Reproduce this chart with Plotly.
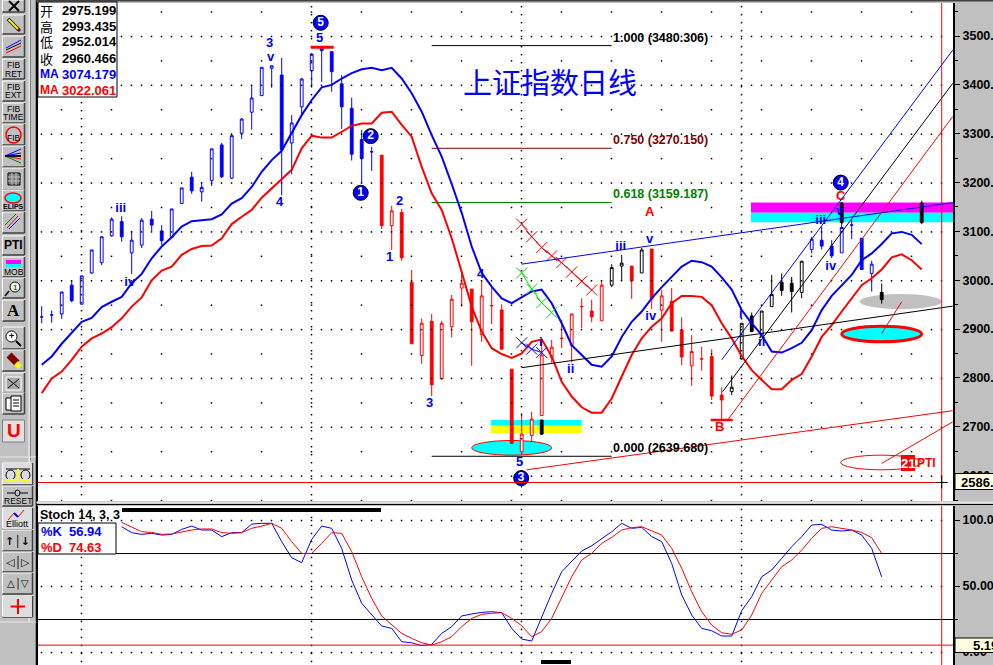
import plotly.graph_objects as go

# ---------- data ----------
OPEN = [2925,2929,2931,2990,2951,3015,3036,3091,3120,3056,3072,3125,3101,3088,3157,3211,3181,3204,3277,3209,
        3301,3344,3378,3434,3420,3281,3355,3429,3477,3468,3402,3352,3288,3263,3256,3112,3139,2996,2846,2916,
        2798,2905,2984,2982,2889,2948,2939,2818,2649,2682,2723,2842,2881,2866,2946,2937,2917,2990,3029,3029,
        3015,3064,2939,2957,2898,2825,2839,2844,2765,2772,2839,2927,2884,2946,2996,2994,2975,3063,3082,3070,
        3056,3113,3086,3014,2975.199]
HIGH = [2947,2938,2976,3000,3009,3062,3089,3129,3131,3101,3127,3142,3113,3146,3189,3222,3201,3269,3281,3301,
        3332,3400,3436,3439,3455,3338,3414,3465,3477,3468,3420,3374,3308,3273,3256,3152,3146,3021,2922,2931,
        2917,2970,3021,2982,3000,2986,2951,2818,2728,2731,2878,2878,2919,2931,2963,2960,3000,3033,3052,3029,
        3066,3064,2980,2984,2924,2888,2864,2859,2781,2805,2912,2934,2937,3011,3014,3007,3039,3089,3110,3082,
        3144,3125,3086,3040,2993.435]
LOW = [2912,2913,2921,2955,2951,3013,3031,3089,3079,3013,3066,3101,3072,3086,3156,3177,3161,3193,3209,3207,
       3289,3308,3377,3394,3174,3217,3336,3398,3406,3386,3310,3245,3198,3224,3105,3062,3040,2870,2829,2763,
       2798,2883,2946,2825,2874,2910,2858,2666,2642,2670,2723,2831,2861,2832,2902,2914,2917,2986,2999,2962,
       3015,2941,2874,2895,2826,2784,2815,2755,2714,2765,2839,2894,2884,2946,2968,2934,2963,3055,3063,3045,
       3056,3084,3022,2977,2952.014]
CLOSE = [2925,2929,2976,2958,3009,3062,3089,3125,3089,3082,3123,3113,3081,3146,3189,3183,3190,3269,3212,3296,
         3330,3373,3436,3439,3267,3322,3412,3463,3470,3427,3355,3258,3249,3263,3112,3142,3046,2870,2912,2786,
         2912,2961,2994,2915,2968,2948,2859,2666,2685,2716,2847,2863,2881,2931,2946,2925,2990,3026,3035,2999,
         3062,2962,2968,2896,2843,2854,2839,2763,2755,2781,2912,2895,2937,2971,2979,2977,3039,3084,3070,3050,
         3108,3113,3022,3033,2960.466]
BLUE_BARS = list(range(0, 34)) + list(range(77, 84))
BLACK_BARS = [57, 58, 60] + list(range(69, 77)) + [84]
RED_BARS = [i for i in range(85) if i not in BLUE_BARS and i not in BLACK_BARS]
EXTRA_X = [50, 80, 88]
EXTRA_OPEN = [2714, 3158, 3158]
EXTRA_HIGH = [2714, 3160, 3163]
EXTRA_LOW = [2683, 3115, 3115]
EXTRA_CLOSE = [2685, 3118, 3118]

MA_BLUE = [2827,2844,2870,2892,2915,2923,2945,2956,2966,2994,3013,3045,3069,3088,3110,3121,3123,3125,3135,3157,
           3168,3191,3222,3246,3265,3301,3338,3369,3395,3400,3413,3424,3432,3435,3430,3435,3413,3383,3345,3297,
           3253,3197,3138,3069,3015,2987,2963,2953,2965,2977,2981,2953,2912,2867,2847,2827,2823,2844,2884,2915,
           2936,2963,2986,3007,3028,3040,3037,3028,3006,2981,2939,2912,2888,2854,2852,2861,2872,2898,2939,2968,
           2990,3011,3041,3055,3074.179,3096,3099,3093,3074]
MA_RED = [2769,2799,2813,2837,2864,2881,2891,2904,2922,2946,2965,3000,3020,3028,3052,3064,3070,3071,3086,3115,
          3130,3144,3169,3188,3207,3226,3270,3296,3292,3292,3304,3316,3321,3321,3343,3345,3318,3294,3232,3178,
          3144,3086,3017,2946,2895,2861,2849,2841,2850,2874,2879,2844,2792,2762,2740,2729,2729,2758,2803,2847,
          2881,2905,2922,2953,2968,2968,2966,2949,2912,2881,2845,2816,2796,2777,2777,2796,2808,2844,2884,2908,
          2936,2963,2990,3004,3022.061,3047,3053,3041,3022]
STOCH_K = [94.9,90.4,89.1,89.9,88.6,89.1,92.9,95.4,92.4,92.4,87.4,90.4,90.4,96.9,97.5,97.5,83.6,71.4,67.7,85.3,
           95.4,93.7,78.5,54.5,36.9,28,19.7,17.9,7.8,7,4.8,5.8,14.1,19.2,27.3,28.8,30,30.5,
           29.8,17.9,9.8,8.3,26.7,44.4,60.8,68.9,76.5,80.5,86.1,91.1,97.5,93.7,94.4,87.4,83.6,67.1,43.2,28,
           17.9,16.1,12.1,12.1,31.3,41.9,57,62.1,70.9,79.8,87.4,96.2,96.7,92.4,91.6,92.4,88.6,78.5,56.94]
STOCH_D = [98.2,94.4,91.1,90.6,89.1,89.4,91.1,92.4,93.2,93.2,90.4,89.9,90.4,93.7,95.4,97.5,93.7,83.6,74.7,74.7,
           82.3,90.4,89.9,76,57,40.6,27.3,20.4,14.1,10.3,7,5.3,7.8,11.6,19.2,25.5,28.5,29.3,
           29.8,25.5,19.9,11.6,15.4,25.5,41.9,57,69.7,74.7,82.3,86.8,92.4,94.2,94.9,91.6,88.6,78.5,63.4,45.7,
           30.5,20.4,14.6,13.4,16.7,28,44.4,54.5,64.6,69.7,77.2,86.1,93.7,94.9,93.7,92.4,90.6,86.6,74.63]
STOCH_START = 8

FIB_LEVELS = [3480.306, 3270.150, 3159.187, 2639.680]
FIB_RATIOS = ["1.000", "0.750", "0.618", "0.000"]
FIB_COLORS = ["#000000", "#800000", "#008000", "#000000"]
FIB_X = [39, 57]

WAVE_TEXT = ["iii","iv","3","v","4","5","2","1","3","4","5","i","ii","iii","v","iv","i","ii","iii","v","iv"]
WAVE_X = [7.9,8.8,22.8,22.9,23.8,27.8,35.8,34.8,38.8,43.9,47.8,49.9,52.9,57.9,60.8,60.9,69.9,72,77.9,79.8,78.9]
WAVE_Y = [3147,2994,3484,3455,3159,3494,3161,3046,2747,3011,2626,2872,2816,3068,3082,2925,2929,2872,3122,3140,3028]
ABC_TEXT = ["A", "B", "C"]
ABC_X = [60.8, 67.8, 79.9]
ABC_Y = [3138, 2698, 3171]
CIRCLE_TEXT = ["5", "2", "1", "3", "4"]
CIRCLE_X = [27.9, 32.9, 31.9, 47.95, 79.9]
CIRCLE_Y = [3527, 3295, 3179, 2595, 3200]

X_RED = [48,49,50,51,52,53,54,55]
Y_RED = [3115,3089,3067,3050,3036,3017,2998,2980]
X_GREEN = [48,49,50,51]
Y_GREEN = [3015,2982,2954,2934]
X_BLUE = [48,49,50]
Y_BLUE = [2872,2859,2852]

CROSS_I = 90
CROSS_PRICE = 2586
CROSS_STOCH = 5.19

TREND_LINES = [  # i0, p0, i1, p1, colour
    (48, 3033, 91.1, 3159, "#0000ff"),
    (48, 2821, 91.1, 2947, "#000000"),
    (48.5, 2612, 91.1, 2733, "#ff0000"),
    (68, 2837, 91.1, 3471, "#0000ff"),
    (68.1, 2772, 91.1, 3403, "#000000"),
    (68.6, 2714, 91.1, 3335, "#ff0000"),
    (84, 2625, 91.1, 2710, "#ff0000"),
    (84, 2891, 86, 2956, "#ff0000"),
]

PRICE_TICKS = [2600, 2700, 2800, 2900, 3000, 3100, 3200, 3300, 3400, 3500]
PRICE_MINOR = [2550, 2650, 2750, 2850, 2950, 3050, 3150, 3250, 3350, 3450, 3550]
STOCH_TICKS = [0, 50, 100]
STOCH_LABELS = ["0.00", "50.00", "100.0"]
TIME_GRID = [4, 27, 48, 70]
# filled zones: i0, i1, price0, price1 (the dotted grid stays behind them)
ZONES = [(70.93, 91.13, 3119, 3159), (44.93, 54, 2687, 2714), (43, 51, 2642, 2672),
         (81.8, 90, 2941, 2972), (80, 88, 2874, 2906)]

# ---------- page geometry ----------
W, H = 993, 665
PX0, PX1 = 38, 953
X_RANGE = [(PX0 - 41.7) / 10, (PX1 - 41.7) / 10]
TOP0, TOP1 = 3, 501
BOT0, BOT1 = 506, 665
PRICE_RANGE = [3500 - (TOP1 - 36) * 2.047, 3500 + (36 - TOP0) * 2.047]
STOCH_RANGE = [(652 - BOT1) / 1.32, (652 - BOT0) / 1.32]
FONT = "Liberation Sans"

fig = go.Figure()

# dotted background grid, one point per dot
def grid_trace(pts, ya, xa):
    fig.add_trace(go.Scatter(x=[p[0] for p in pts], y=[p[1] for p in pts], mode="lines+markers", xaxis=xa, yaxis=ya,
                             hoverinfo="skip", showlegend=False, line=dict(width=0, color="rgba(0,0,0,0)"),
                             marker=dict(symbol="square", size=1.5, color="#000000", line=dict(width=0))))

def in_zone(p):
    return any(a <= p[0] <= b and c <= p[1] <= d for a, b, c, d in ZONES)

pts = []
for p in PRICE_TICKS:
    pts += [(i - 0.02, p - 1) for i in range(0, 91)]
for p in PRICE_MINOR:
    pts += [(i + 2.0 - 0.02, p - 1) for i in range(0, 90, 5)]
for t in TIME_GRID:
    n = 0
    while 3560 - n * 16.376 > PRICE_RANGE[0]:
        pts.append((t - 0.02, 3560 - n * 16.376))
        n += 1
grid_trace([p for p in pts if not in_zone(p)], "y", "x")
pts = []
for s in STOCH_TICKS:
    pts += [(i - 0.02, s - 0.4) for i in range(0, 91)]
for t in TIME_GRID:
    n = 0
    while 108 - n * 6.06 > STOCH_RANGE[0]:
        pts.append((t - 0.02, 108 - n * 6.06))
        n += 1
grid_trace(pts, "y2", "x2")

def candles(x, o, h, l, c, color):
    fig.add_trace(go.Candlestick(
        x=x, open=o, high=h, low=l, close=c, whiskerwidth=0, hoverinfo="skip", showlegend=False,
        increasing=dict(line=dict(color=color, width=1), fillcolor="#ffffff"),
        decreasing=dict(line=dict(color=color, width=1), fillcolor=color)))

for group, col in ((BLUE_BARS, "#0000ff"), (RED_BARS, "#ff0000"), (BLACK_BARS, "#000000")):
    candles(group, [OPEN[i] for i in group], [HIGH[i] for i in group],
            [LOW[i] for i in group], [CLOSE[i] for i in group], col)
candles(EXTRA_X, EXTRA_OPEN, EXTRA_HIGH, EXTRA_LOW, EXTRA_CLOSE, "#000000")

def line(x, y, color, width, xa="x", ya="y", mode="lines", **kw):
    fig.add_trace(go.Scatter(x=x, y=y, mode=mode, xaxis=xa, yaxis=ya, hoverinfo="skip", showlegend=False,
                             line=dict(color=color, width=width), **kw))

line(list(range(len(MA_RED))), MA_RED, "#ff0000", 2)
line(list(range(len(MA_BLUE))), MA_BLUE, "#0000ff", 2)

for xs, ys, col in ((X_RED, Y_RED, "#ff0000"), (X_GREEN, Y_GREEN, "#00e000"), (X_BLUE, Y_BLUE, "#0000ff")):
    line(xs, ys, col, 1, mode="lines+markers",
         marker=dict(symbol="x-thin", size=11, line=dict(color=col, width=1)))

kx = list(range(STOCH_START, STOCH_START + len(STOCH_K)))
line(kx, STOCH_K, "#0000ff", 1, "x2", "y2")
line(kx, STOCH_D, "#ff0000", 1, "x2", "y2")

fig.add_trace(go.Scatter(x=WAVE_X, y=WAVE_Y, mode="text", text=WAVE_TEXT, hoverinfo="skip", showlegend=False,
                         textfont=dict(family=FONT, size=13, color="#0000ff", weight="bold")))
fig.add_trace(go.Scatter(x=ABC_X, y=ABC_Y, mode="text", text=ABC_TEXT, hoverinfo="skip", showlegend=False,
                         textfont=dict(family=FONT, size=13, color="#ff0000", weight="bold")))
fig.add_trace(go.Scatter(x=CIRCLE_X, y=CIRCLE_Y, mode="markers+text", text=CIRCLE_TEXT, textposition="middle center",
                         hoverinfo="skip", showlegend=False,
                         marker=dict(size=15, color="#0000ff", line=dict(color="#000000", width=1)),
                         textfont=dict(family=FONT, size=12, color="#ffffff", weight="bold")))

shapes, notes = [], []

def data_shape(kind, x0, y0, x1, y1, xa="x", ya="y", fill=None, color=None, width=1, layer="below"):
    s = dict(type=kind, xref=xa, yref=ya, x0=x0, y0=y0, x1=x1, y1=y1, layer=layer,
             line=dict(color=color or "rgba(0,0,0,0)", width=width if color else 0))
    if fill:
        s["fillcolor"] = fill
    shapes.append(s)

# zones and ellipses
data_shape("rect", 70.93, 3138, 91.13, 3159, fill="#ff00ff")
data_shape("rect", 70.93, 3119, 91.13, 3138, fill="#00ffff")
data_shape("rect", 44.93, 2702, 54, 2714, fill="#00ffff")
data_shape("rect", 44.93, 2687, 54, 2702, fill="#ffff00")
data_shape("circle", 43, 2642, 51, 2672, fill="#00ffff", color="#ff0000", width=1)
data_shape("circle", 81.8, 2941, 90, 2972, fill="#c0c0c0")
data_shape("circle", 80, 2874, 88, 2906, fill="#00ffff", color="#ff0000", width=3)
data_shape("circle", 79.9, 2612, 88, 2642, color="#ff0000", width=1)

for level, col in zip(FIB_LEVELS, FIB_COLORS):
    data_shape("line", FIB_X[0], level, FIB_X[1], level, color=col, width=1)
for i0, p0, i1, p1, col in TREND_LINES:
    data_shape("line", i0, p0, i1, p1, color=col, width=1, layer="above")
data_shape("line", 66.9, 2714, 69.1, 2714, color="#ff0000", width=2.5, layer="above")
data_shape("line", 26.9, 3477, 29.2, 3477, color="#ff0000", width=3, layer="above")

# crosshair and stochastic guide lines
data_shape("line", CROSS_I, PRICE_RANGE[0], CROSS_I, PRICE_RANGE[1], color="#ff0000", width=1, layer="above")
data_shape("line", CROSS_I, STOCH_RANGE[0], CROSS_I, STOCH_RANGE[1], "x2", "y2", color="#ff0000", width=1, layer="above")
data_shape("line", X_RANGE[0], CROSS_PRICE, 89.6, CROSS_PRICE, color="#ff0000", width=1, layer="above")
data_shape("line", X_RANGE[0], CROSS_STOCH, X_RANGE[1], CROSS_STOCH, "x2", "y2", color="#ff0000", width=1, layer="above")
for lv in (74.6, 24.6):
    data_shape("line", X_RANGE[0], lv, X_RANGE[1], lv, "x2", "y2", color="#000000", width=1)
# cross cursor
data_shape("line", CROSS_I - 0.6, CROSS_PRICE, CROSS_I + 0.6, CROSS_PRICE, color="#000000", width=1, layer="above")
data_shape("line", CROSS_I, CROSS_PRICE - 12, CROSS_I, CROSS_PRICE + 12, color="#000000", width=1, layer="above")

# ---------- chrome, positioned in page pixels ----------
def rect(x0, y0, x1, y1, fill=None, color=None, width=1):
    s = dict(type="rect", xref="paper", yref="paper", x0=x0 / W, x1=x1 / W, y0=1 - y0 / H, y1=1 - y1 / H,
             layer="above", line=dict(color=color or "rgba(0,0,0,0)", width=width if color else 0))
    if fill:
        s["fillcolor"] = fill
    shapes.append(s)

def seg(x0, y0, x1, y1, color, width=1):
    shapes.append(dict(type="line", xref="paper", yref="paper", x0=x0 / W, x1=x1 / W, y0=1 - y0 / H, y1=1 - y1 / H,
                       layer="above", line=dict(color=color, width=width)))

def oval(x0, y0, x1, y1, fill=None, color=None, width=1):
    s = dict(type="circle", xref="paper", yref="paper", x0=x0 / W, x1=x1 / W, y0=1 - y0 / H, y1=1 - y1 / H,
             layer="above", line=dict(color=color or "rgba(0,0,0,0)", width=width if color else 0))
    if fill:
        s["fillcolor"] = fill
    shapes.append(s)

def text(x, y, t, color="#000000", size=12, bold=True, anchor="left", family=FONT):
    notes.append(dict(xref="paper", yref="paper", x=x / W, y=1 - y / H, text=t, showarrow=False,
                      xanchor=anchor, yanchor="middle", borderpad=0,
                      font=dict(family=family, size=size, color=color, weight="bold" if bold else "normal")))

def button(x0, y0, x1, y1, fill="#c0c0c0"):
    rect(x0, y0, x1, y1, fill=fill)
    seg(x0, y0, x1, y0, "#ffffff")
    seg(x0, y0, x0, y1, "#ffffff")
    seg(x0, y1, x1, y1, "#404040", 1.5)
    seg(x1, y0, x1, y1, "#404040", 1.5)

# bands beside the tool strip and across the top
rect(28, 0, 30, 622, fill="#dcdcdc")
seg(30.5, 0, 30.5, 460, "#808080")
seg(36.5, 0, 36.5, H, "#000000", 1.5)
rect(36, 0, W, 1.5, fill="#404040")
seg(0, 457, 36, 457, "#e8e8e8")
seg(0, 622, 36, 622, "#e8e8e8")
rect(36.5, 501.5, W, 503.5, fill="#e0e0e0")
seg(36.5, 504.5, W, 504.5, "#000000", 1)

B = [(0, 12), (15, 34), (36, 57), (59, 79), (81, 101), (103, 123), (124, 145), (146, 167), (168, 190),
     (190, 211), (212, 233), (236, 255), (257, 277), (278, 298), (300, 321), (327, 349), (350, 371),
     (373, 393), (393, 414)]
for y0, y1 in B:
    button(2.5, y0, 24.5, y1)
for y0, y1 in ((463, 485), (486, 506), (508, 529), (530, 551), (552, 572), (573, 594), (596, 617)):
    button(2.5, y0, 32.5, y1)
rect(2.5, 420, 24.5, 442, fill="#e0e0e0", color="#808080")

# icons
SMALL = 8.5
seg(9, 1, 19, 11, "#000000", 2); seg(19, 1, 9, 11, "#000000", 2)
seg(8, 19, 19, 30, "#000000", 3.5); seg(8.5, 19.5, 18.5, 29.5, "#ffff00", 2); seg(18, 29, 20, 31, "#800000", 3)
seg(6, 48, 21, 40, "#0000ff"); seg(6, 50, 21, 43, "#000000"); seg(6, 53, 21, 46, "#ff0000")
for top, a, b in ((59, "FIB", "RET"), (81, "FIB", "EXT"), (103, "FIB", "TIME")):
    text(13.5, top + 6, a, size=SMALL, bold=False, anchor="center")
    text(13.5, top + 14.5, b, size=SMALL, bold=False, anchor="center")
oval(6, 127, 21, 143, color="#ff0000", width=1.5); text(13.5, 138, "FIB", size=SMALL, bold=False, anchor="center")
for dy, col in ((-7, "#0000ff"), (-3, "#0000ff"), (0, "#000000"), (3, "#ff0000"), (7, "#008000")):
    seg(5, 156, 21, 156 + dy, col)
seg(5, 156, 21, 156, "#000000", 1.5)
rect(8, 173, 20, 185, fill="#808080", color="#000000")
seg(12, 173, 12, 185, "#c0c0c0"); seg(16, 173, 16, 185, "#c0c0c0"); seg(8, 177, 20, 177, "#c0c0c0"); seg(8, 181, 20, 181, "#c0c0c0")
oval(5, 193, 21, 203, fill="#00ffff", color="#ff0000", width=1.5); text(13.5, 206, "ELIPS", size=7, anchor="center")
seg(7, 228, 18, 216, "#ff0000"); seg(9, 229, 20, 218, "#0000ff"); seg(5, 225, 16, 214, "#008000")
text(13.5, 245, "PTI", size=12, anchor="center")
rect(6, 260, 21, 264, fill="#ff00ff"); rect(6, 264, 21, 267, fill="#00ffff"); text(13.5, 272, "MOB", size=SMALL, bold=False, anchor="center")
oval(10, 282, 20, 292, fill="#ffffff", color="#000000"); seg(9, 291, 5, 296, "#000000", 1.5); text(15, 287, "1", "#008000", 8, anchor="center")
text(13.5, 310, "A", size=17, anchor="center", family="Liberation Serif")
oval(6, 331, 17, 342, fill="#ffffff", color="#000000"); seg(16, 341, 21, 346, "#000000", 2); text(11.5, 336, "+", size=9, anchor="center")
seg(9, 355, 17, 363, "#800000", 7); seg(16, 363, 20, 367, "#ffff00", 5)
rect(6, 377, 21, 390, fill="#a8a8a8", color="#ffffff")
seg(8, 379, 19, 388, "#000000"); seg(19, 379, 8, 388, "#000000")
rect(6, 398, 15, 410, fill="#ffffff", color="#000000"); rect(11, 396, 21, 411, fill="#ffffff", color="#000000")
seg(13, 400, 19, 400, "#000000"); seg(13, 403, 19, 403, "#000000"); seg(13, 406, 19, 406, "#000000")
text(14, 431, "U", "#ff0000", 19, anchor="center")
rect(3, 464, 32, 484, fill="#dcdcdc")
seg(6, 469, 30, 469, "#000000"); seg(18, 469, 18, 482, "#ffff00", 2)
oval(6, 470, 15, 480, color="#000000"); oval(21, 470, 30, 480, color="#000000")
seg(6, 480, 15, 480, "#ffff00", 2); seg(21, 480, 30, 480, "#ffff00", 2)
seg(7, 493, 28, 493, "#000000"); oval(15, 490, 20, 496, fill="#c0c0c0", color="#000000")
text(17.5, 501, "RESET", size=8.5, bold=False, anchor="center")
rect(3, 508, 32, 529, fill="#dcdcdc")
seg(8, 520, 14, 513, "#ff0000"); seg(14, 513, 18, 517, "#0000ff", 2); seg(18, 517, 24, 510, "#ff0000")
text(17.5, 524, "Elliott", size=9, bold=False, anchor="center")
text(17.5, 540.5, "\u2191\u2502\u2193", size=11, anchor="center", family="DejaVu Sans")
text(17.5, 562, "\u25c1\u2502\u25b7", size=11, anchor="center", family="DejaVu Sans")
text(17.5, 583.5, "\u25b3\u2502\u25bd", size=10, anchor="center", family="DejaVu Sans")
rect(3, 596, 32, 617, fill="#dcdcdc")
seg(10.5, 606.5, 25, 606.5, "#ff0000", 2); seg(18, 599, 18, 614, "#ff0000", 2)

# price legend box
rect(38, 2, 117, 97, fill="#ffffff", color="#000000", width=1)
rows = [("\u5f00", 2975.199, "#000000"), ("\u9ad8", 2993.435, "#000000"), ("\u4f4e", 2952.014, "#000000"),
        ("\u6536", 2960.466, "#000000")]
for k, (lab, val, col) in enumerate(rows):
    text(39, 10 + 16 * k, lab, col, 13, bold=False, family="Noto Sans CJK SC")
    text(60.5, 10 + 16 * k, f"{val:.3f}", col, 13)
text(39, 74, "MA", "#0000ff", 12); text(60.5, 74, f"{MA_BLUE[84]:.3f}", "#0000ff", 13)
text(39, 90, "MA", "#ff0000", 12); text(60.5, 90, f"{MA_RED[84]:.3f}", "#ff0000", 13)

# title and fib labels
text(550, 81, "\u4e0a\u8bc1\u6307\u6570\u65e5\u7ebf", "#0000ff", 29, bold=False, anchor="center", family="Noto Sans CJK SC")
for r, level, col in zip(FIB_RATIOS, FIB_LEVELS, FIB_COLORS):
    notes.append(dict(xref="x", yref="y", x=FIB_X[1] - 0.1, y=level, yshift=8, text=f"{r} ({level:.3f})",
                      showarrow=False, xanchor="left", font=dict(family=FONT, size=12.5, color=col, weight="bold")))

# PTI tag
rect(901, 455, 915, 471, fill="#ff0000")
text(908, 463, "21", "#ffffff", 13, anchor="center")
text(916, 463, "PTI", "#ff0000", 12)

# stochastic header
text(39, 515, "Stoch 14, 3, 3", "#000000", 12.5)
rect(122, 508, 381, 512, fill="#000000")
rect(38, 523, 116, 554, fill="#ffffff", color="#000000")
text(40, 531, "%K", "#0000ff", 13); text(68, 531, f"{STOCH_K[-1]:.2f}", "#0000ff", 13)
text(40, 547, "%D", "#ff0000", 13); text(68, 547, f"{STOCH_D[-1]:.2f}", "#ff0000", 13)
rect(541, 660, 571, 664, fill="#000000")

# value boxes on the scale
rect(955, 473.5, 995, 489.5, fill="#ffffe0", color="#000000")
text(960, 482, f"{CROSS_PRICE}.", "#000000", 13)
rect(955, 638, 995, 652.5, fill="#ffffe0", color="#000000")
text(972, 645.5, f"{CROSS_STOCH:.2f}", "#000000", 13)

# ---------- axes ----------
tickfont = dict(family=FONT, size=12.5, color="#000000", weight="bold")
xbase = dict(range=X_RANGE, domain=[PX0 / W, PX1 / W], showticklabels=False, ticks="", zeroline=False,
             showgrid=False, showline=False, rangeslider=dict(visible=False), automargin=False)
ybase = dict(side="right", showgrid=False, zeroline=False, showline=True, linecolor="#000000", linewidth=2, mirror=True,
             ticks="outside", ticklen=5, tickcolor="#000000", tickfont=tickfont, tickmode="array", automargin=False)

fig.update_layout(
    width=W, height=H, margin=dict(l=0, r=0, t=0, b=0, pad=0), autosize=False,
    paper_bgcolor="#c0c0c0", plot_bgcolor="#ffffff", showlegend=False, boxgap=0.6, boxmode="overlay",
    hovermode=False, shapes=shapes, annotations=notes, font=dict(family=FONT),
    xaxis=dict(**xbase, anchor="y"),
    xaxis2=dict(**xbase, anchor="y2"),
    yaxis=dict(**ybase, anchor="x", domain=[1 - TOP1 / H, 1 - TOP0 / H], range=PRICE_RANGE,
               tickvals=PRICE_TICKS, ticktext=[f"{v}." for v in PRICE_TICKS],
               minor=dict(tickmode="array", tickvals=PRICE_MINOR, ticks="outside", ticklen=3, tickcolor="#000000",
                          showgrid=False)),
    yaxis2=dict(**ybase, anchor="x2", domain=[0, 1 - BOT0 / H], range=STOCH_RANGE,
                tickvals=STOCH_TICKS, ticktext=STOCH_LABELS,
                minor=dict(tickmode="array", tickvals=[25, 75], ticks="outside", ticklen=3, tickcolor="#000000",
                           showgrid=False)),
)

fig.write_html("out.html", config=dict(displayModeBar=False, staticPlot=True),
               post_script="document.body.style.margin='0';document.body.style.overflow='hidden';")
